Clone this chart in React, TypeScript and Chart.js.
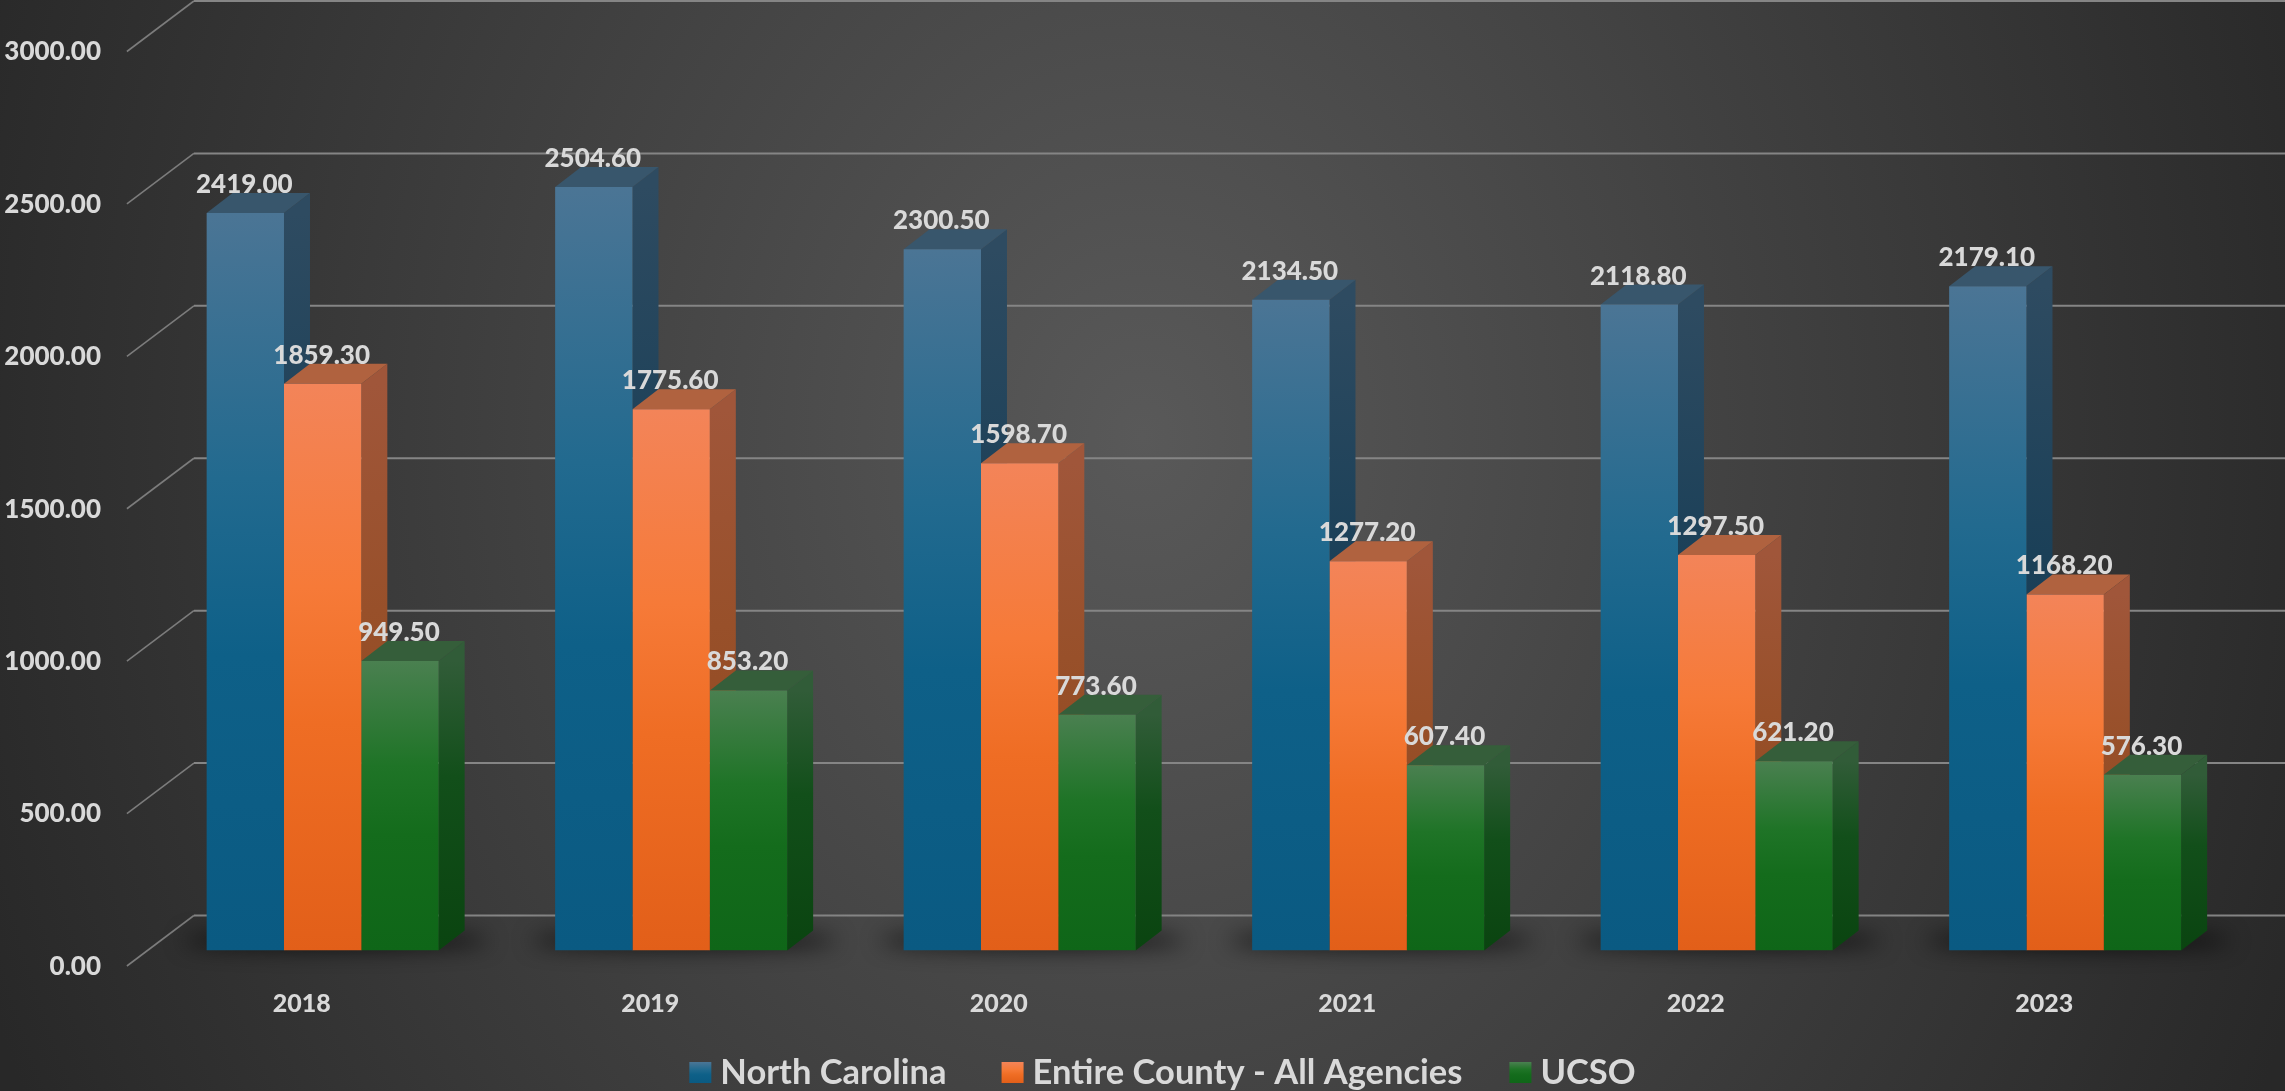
import React, { useEffect, useRef } from "react";
import { Chart, registerables } from "chart.js";

Chart.register(...registerables);

const categories = ["2018", "2019", "2020", "2021", "2022", "2023"];
const northCarolina = [2419.0, 2504.6, 2300.5, 2134.5, 2118.8, 2179.1];
const entireCounty = [1859.3, 1775.6, 1598.7, 1277.2, 1297.5, 1168.2];
const ucso = [949.5, 853.2, 773.6, 607.4, 621.2, 576.3];
const seriesNames = ["North Carolina", "Entire County - All Agencies", "UCSO"];

const FONT = "Lato";
const TEXT = "#d9d9d9";
const DX = 26;
const DY = 20;

const palette = [
  { front: ["#4b7595", "#226a8f", "#0e6088", "#0a5a82"], side: ["#2e4b61", "#1b4058", "#123a55"], top: "#38566c" },
  { front: ["#f38459", "#f67a38", "#ef6d24", "#e25f19"], side: ["#a0563a", "#98502a", "#8c4418"], top: "#b0623f" },
  { front: ["#4a8050", "#1f7427", "#146c1c", "#0f6618"], side: ["#315c38", "#124f1a", "#0a4410"], top: "#355e3a" },
];

function vGrad(ctx: CanvasRenderingContext2D, y0: number, y1: number, stops: string[], pos: number[]) {
  const g = ctx.createLinearGradient(0, y0, 0, y1);
  stops.forEach((s, i) => g.addColorStop(pos[i], s));
  return g;
}

const backgroundPlugin = {
  id: "backdrop",
  beforeDraw(chart: any) {
    const { ctx, width, height } = chart;
    ctx.save();
    ctx.translate(width / 2, height * 0.4);
    ctx.scale(1240, 1530);
    const g = ctx.createRadialGradient(0, 0, 0, 0, 0, 1);
    g.addColorStop(0, "#595959");
    g.addColorStop(1, "#282828");
    ctx.fillStyle = g;
    ctx.fillRect(-2, -2, 4, 4);
    ctx.restore();
  },
};

const depthPlugin = {
  id: "depth",
  beforeDatasetsDraw(chart: any) {
    const { ctx, scales, width } = chart;
    const y = scales.y;
    const x = scales.x;
    const left = x.left - 21.5;

    // receding gridlines
    ctx.save();
    y.ticks.forEach((t: any) => {
      const p = y.getPixelForValue(t.value);
      ctx.strokeStyle = "#7c7c7c";
      ctx.lineWidth = 1.6;
      ctx.beginPath();
      ctx.moveTo(left, p + 15.5);
      ctx.lineTo(left + 67, p - 35);
      ctx.stroke();
      ctx.strokeStyle = "#858585";
      ctx.lineWidth = 2;
      ctx.beginPath();
      ctx.moveTo(left + 67, p - 35);
      ctx.lineTo(width, p - 35);
      ctx.stroke();
    });

    const metas = chart.getSortedVisibleDatasetMetas();
    const byIndex = [...metas].sort((a: any, b: any) => a.index - b.index);

    // floor shadows
    categories.forEach((_, i) => {
      const first = byIndex[0].data[i];
      const last = byIndex[byIndex.length - 1].data[i];
      const l = first.x - first.width / 2;
      const r = last.x + last.width / 2 + DX;
      const by = y.getPixelForValue(0);
      ctx.save();
      ctx.shadowColor = "rgba(0,0,0,0.95)";
      ctx.shadowBlur = 22;
      ctx.shadowOffsetX = 6000;
      ctx.fillStyle = "#000";
      ctx.beginPath();
      ctx.ellipse((l + r) / 2 - 6000, by - 10, (r - l) / 2 + 24, 7, 0, 0, Math.PI * 2);
      ctx.fill();
      ctx.restore();
    });

    // side and top faces
    categories.forEach((_, i) => {
      byIndex.forEach((meta: any) => {
        const el = meta.data[i];
        const pal = palette[meta.index];
        const l = el.x - el.width / 2;
        const r = el.x + el.width / 2;
        const t = el.y;
        const b = el.base;
        ctx.fillStyle = vGrad(ctx, t, b, pal.side, [0, 0.4, 1]);
        ctx.beginPath();
        ctx.moveTo(r, t);
        ctx.lineTo(r + DX, t - DY);
        ctx.lineTo(r + DX, b - DY);
        ctx.lineTo(r, b);
        ctx.closePath();
        ctx.fill();
        ctx.fillStyle = pal.top;
        ctx.beginPath();
        ctx.moveTo(l, t);
        ctx.lineTo(l + DX, t - DY);
        ctx.lineTo(r + DX, t - DY);
        ctx.lineTo(r, t);
        ctx.closePath();
        ctx.fill();
      });
    });
    ctx.restore();
  },
  afterDatasetsDraw(chart: any) {
    const { ctx } = chart;
    ctx.save();
    ctx.font = `900 26px ${FONT}`;
    ctx.fillStyle = TEXT;
    ctx.textAlign = "center";
    ctx.textBaseline = "alphabetic";
    chart.getSortedVisibleDatasetMetas().forEach((meta: any) => {
      meta.data.forEach((el: any, i: number) => {
        const v = chart.data.datasets[meta.index].data[i] as number;
        ctx.fillText(v.toFixed(2), el.x - 1, el.y - DY);
      });
    });
    ctx.restore();
  },
};

const legendPlugin = {
  id: "bottomKey",
  afterDraw(chart: any) {
    const { ctx, width } = chart;
    const size = 34.5;
    const box = 22;
    const boxH = 21;
    const textGap = 9;
    const itemGaps = [55, 47, 0];
    ctx.save();
    ctx.font = `bold ${size}px ${FONT}`;
    ctx.textBaseline = "alphabetic";
    ctx.textAlign = "left";
    const names: string[] = chart.data.datasets.map((d: any) => d.label);
    const widths = names.map((n) => ctx.measureText(n).width);
    const total = widths.reduce((a, b) => a + b, 0) + names.length * (box + textGap) + itemGaps[0] + itemGaps[1];
    let x = width / 2 + 20 - total / 2;
    names.forEach((n, i) => {
      ctx.fillStyle = vGrad(ctx, 1062, 1083, palette[i].front, [0, 0.35, 0.6, 1]);
      ctx.fillRect(x, 1062, box, boxH);
      ctx.fillStyle = TEXT;
      ctx.fillText(n, x + box + textGap, 1084);
      x += box + textGap + widths[i] + itemGaps[i];
    });
    ctx.restore();
  },
};

function frontFace(seriesIndex: number) {
  return (c: any) => {
    const chart = c.chart;
    if (!chart.chartArea || typeof c.raw !== "number") return palette[seriesIndex].front[1];
    const y = chart.scales.y;
    return vGrad(chart.ctx, y.getPixelForValue(c.raw), y.getPixelForValue(0), palette[seriesIndex].front, [0, 0.36, 0.6, 1]);
  };
}

export default function App() {
  const ref = useRef<HTMLCanvasElement | null>(null);
  useEffect(() => {
    document.body.style.margin = "0";
    document.body.style.overflow = "hidden";
    const chart = new Chart(ref.current as HTMLCanvasElement, {
      type: "bar",
      data: {
        labels: categories,
        datasets: [northCarolina, entireCounty, ucso].map((data, i) => ({
          label: seriesNames[i],
          data,
          backgroundColor: frontFace(i),
          borderWidth: 0,
          categoryPercentage: 0.6657,
          barPercentage: 1,
        })),
      },
      options: {
        responsive: false,
        animation: false,
        layout: { padding: { left: 0, right: 45.6, top: 36, bottom: 0 } },
        plugins: { legend: { display: false }, tooltip: { enabled: false } },
        scales: {
          x: {
            grid: { display: false, drawTicks: false },
            border: { display: false },
            afterFit: (s: any) => { s.height = 140.5; s.paddingLeft = 0; s.paddingRight = 0; },
            ticks: {
              color: TEXT,
              font: { family: FONT, weight: "900", size: 25 },
              labelOffset: -21,
              padding: 38,
              maxRotation: 0,
            },
          },
          y: {
            min: 0,
            max: 3000,
            grid: { display: false, drawTicks: false },
            border: { display: false },
            afterFit: (s: any) => { s.width = 148.4; s.paddingTop = 0; s.paddingBottom = 0; },
            ticks: {
              stepSize: 500,
              color: TEXT,
              font: { family: FONT, weight: "900", size: 26 },
              labelOffset: 16,
              padding: 47.4,
              callback: (v: any) => Number(v).toFixed(2),
            },
          },
        },
      } as any,
      plugins: [backgroundPlugin, depthPlugin, legendPlugin],
    });
    return () => chart.destroy();
  }, []);
  return <canvas ref={ref} width={2285} height={1091} style={{ display: "block" }} />;
}
